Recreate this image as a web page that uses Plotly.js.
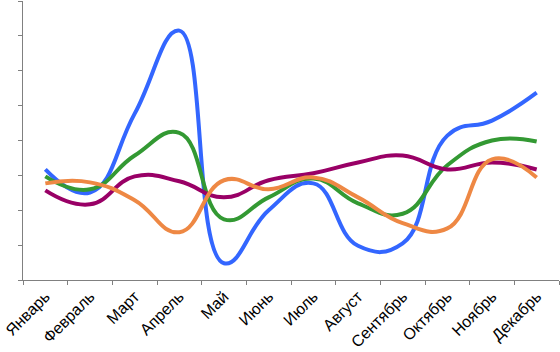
<!DOCTYPE html>
<html><head><meta charset="utf-8">
<script src="https://cdn.plot.ly/plotly-3.0.1.min.js"></script>
<style>html,body{margin:0;padding:0;background:#fff}#c{width:560px;height:352px}</style>
</head><body><div id="c"></div>
<script>
const months = ["Январь","Февраль","Март","Апрель","Май","Июнь","Июль","Август","Сентябрь","Октябрь","Ноябрь","Декабрь"];
const blue   = [3.17, 2.51, 4.77, 7.15, 0.48, 2.00, 2.77, 0.98, 1.05, 4.14, 4.57, 5.37];
const green  = [2.97, 2.60, 3.57, 4.22, 1.74, 2.37, 2.91, 2.20, 1.90, 3.29, 4.00, 3.97];
const purple = [2.57, 2.17, 2.97, 2.83, 2.37, 2.86, 3.06, 3.37, 3.57, 3.17, 3.37, 3.17];
const orange = [2.77, 2.80, 2.29, 1.37, 2.86, 2.60, 2.94, 2.37, 1.63, 1.48, 3.46, 2.94];

function tr(y, color){
  return {x: months, y: y, type: 'scatter', mode: 'lines',
    line: {color: color, width: 4, shape: 'spline', smoothing: 1.3},
    hoverinfo: 'skip', showlegend: false};
}
const data = [tr(blue,'#3366ff'), tr(green,'#339933'), tr(purple,'#990066'), tr(orange,'#ee8844')];
const layout = {
  width: 560, height: 352,
  margin: {l: 23, r: 1, t: 1, b: 72},
  paper_bgcolor: '#fff', plot_bgcolor: '#fff',
  font: {family: 'Liberation Sans, Arial, sans-serif', size: 16, color: '#000'},
  xaxis: {type: 'category', range: [-0.5, 11.5], showgrid: false, zeroline: false,
    showline: true, linecolor: '#808080', linewidth: 1, automargin: false,
    ticks: 'outside', tickson: 'boundaries', ticklen: 4, tickcolor: '#808080',
    tickangle: -45, tickfont: {size: 16}},
  yaxis: {range: [0, 8], dtick: 1, showgrid: false, zeroline: false,
    showline: true, linecolor: '#808080', linewidth: 1,
    ticks: 'outside', ticklen: 4, tickcolor: '#808080', showticklabels: false}
};
Plotly.newPlot('c', data, layout, {staticPlot: true});
</script></body></html>
